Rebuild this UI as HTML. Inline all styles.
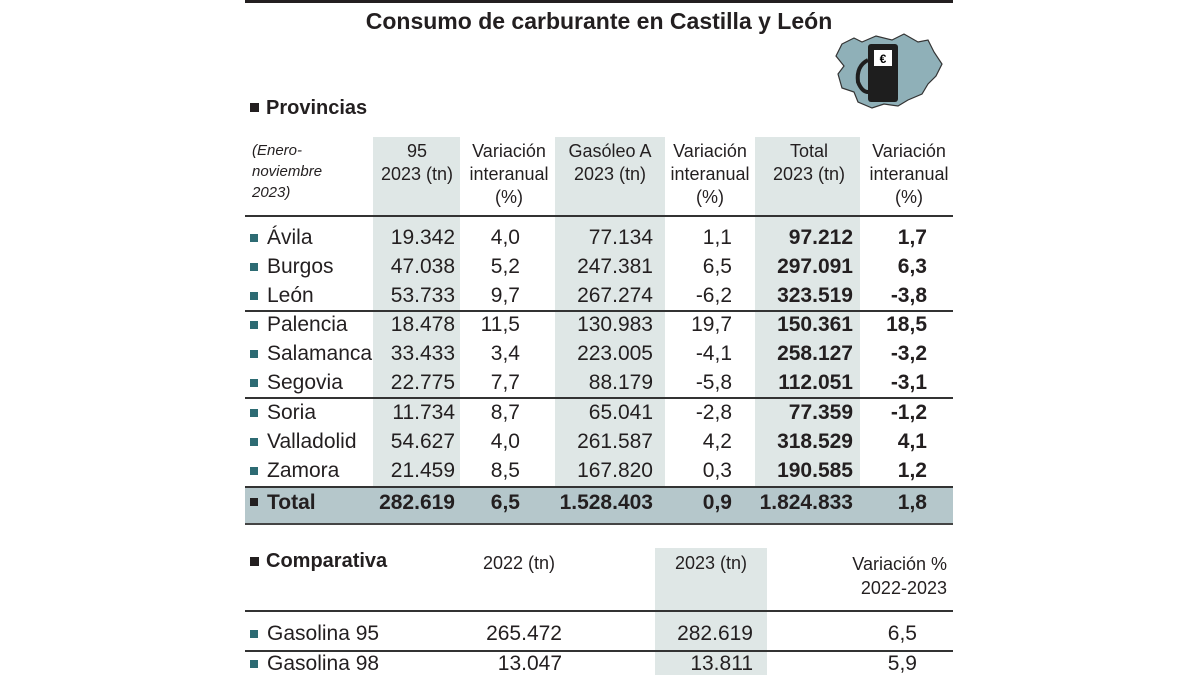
<!DOCTYPE html>
<html><head><meta charset="utf-8">
<style>
body{margin:0;width:1200px;height:675px;background:#fff;position:relative;overflow:hidden;font-family:"Liberation Sans Narrow","Liberation Sans",sans-serif;color:#231f20}
div{position:absolute}
.t{height:26px;line-height:26px;font-size:21px;white-space:nowrap}
.h{font-size:18px;line-height:23px;text-align:center;white-space:nowrap}
.sh{background:#dfe7e6}
.ln{left:245px;width:708px;height:1.5px;background:#333}
.b{font-weight:bold}
.n{left:267px}
.c1{left:360px;width:95px;text-align:right}
.c2{left:460px;width:60px;text-align:right}
.c3{left:555px;width:98px;text-align:right}
.c4{left:665px;width:67px;text-align:right}
.c5{left:755px;width:98px;text-align:right}
.c6{left:860px;width:67px;text-align:right}
.sq{width:8px;height:8px;background:#2d6b73;left:250px}
</style></head><body>
<div style="left:245px;top:0;width:708px;height:3px;background:#231f20"></div>
<div style="left:245px;top:6px;width:708px;text-align:center;font-size:23px;font-weight:bold;line-height:30px">Consumo de carburante en Castilla y León</div>
<svg style="position:absolute;left:832px;top:30px" width="112" height="82" viewBox="0 0 112 82">
<path d="M10 14 L22 8 L30 12 L44 6 L60 10 L72 4 L86 12 L96 10 L102 22 L110 34 L104 46 L96 54 L90 64 L76 70 L66 76 L52 74 L40 78 L26 72 L22 62 L10 58 L6 44 L12 36 L4 26 Z" fill="#8fb0b8" stroke="#333" stroke-width="1.2"/>
<rect x="36" y="14" width="30" height="58" rx="3" fill="#1e1e1e"/>
<rect x="42" y="20" width="18" height="16" fill="#fff"/>
<text x="51" y="33" font-size="12" text-anchor="middle" font-family="Liberation Sans" font-weight="bold">€</text>
<path d="M36 30 Q24 36 26 52 Q30 62 36 62" fill="none" stroke="#1e1e1e" stroke-width="4"/>
</svg>
<div style="left:250px;top:103px;width:9px;height:9px;background:#231f20"></div>
<div style="left:266px;top:95px;font-size:20px;font-weight:bold;line-height:26px">Provincias</div>

<div class="sh" style="left:373px;top:137px;width:87px;height:385px"></div>
<div class="sh" style="left:555px;top:137px;width:110px;height:385px"></div>
<div class="sh" style="left:755px;top:137px;width:105px;height:385px"></div>

<div style="left:252px;top:140px;font-size:15px;font-style:italic;line-height:21px">(Enero-<br>noviembre<br>2023)</div>
<div class="h" style="left:367px;top:140px;width:100px">95<br>2023 (tn)</div>
<div class="h" style="left:464px;top:140px;width:90px">Variación<br>interanual<br>(%)</div>
<div class="h" style="left:555px;top:140px;width:110px">Gasóleo A<br>2023 (tn)</div>
<div class="h" style="left:665px;top:140px;width:90px">Variación<br>interanual<br>(%)</div>
<div class="h" style="left:755px;top:140px;width:108px">Total<br>2023 (tn)</div>
<div class="h" style="left:864px;top:140px;width:90px">Variación<br>interanual<br>(%)</div>

<div class="ln" style="top:215px"></div>
<div class="ln" style="top:310px"></div>
<div class="ln" style="top:397px"></div>

<div class="sq" style="top:234px"></div><div class="t n" style="top:225px">Ávila</div><div class="t c1" style="top:225px">19.342</div><div class="t c2" style="top:225px">4,0</div><div class="t c3" style="top:225px">77.134</div><div class="t c4" style="top:225px">1,1</div><div class="t c5 b" style="top:225px">97.212</div><div class="t c6 b" style="top:225px">1,7</div>
<div class="sq" style="top:263px"></div><div class="t n" style="top:254px">Burgos</div><div class="t c1" style="top:254px">47.038</div><div class="t c2" style="top:254px">5,2</div><div class="t c3" style="top:254px">247.381</div><div class="t c4" style="top:254px">6,5</div><div class="t c5 b" style="top:254px">297.091</div><div class="t c6 b" style="top:254px">6,3</div>
<div class="sq" style="top:292px"></div><div class="t n" style="top:283px">León</div><div class="t c1" style="top:283px">53.733</div><div class="t c2" style="top:283px">9,7</div><div class="t c3" style="top:283px">267.274</div><div class="t c4" style="top:283px">-6,2</div><div class="t c5 b" style="top:283px">323.519</div><div class="t c6 b" style="top:283px">-3,8</div>
<div class="sq" style="top:321px"></div><div class="t n" style="top:312px">Palencia</div><div class="t c1" style="top:312px">18.478</div><div class="t c2" style="top:312px">11,5</div><div class="t c3" style="top:312px">130.983</div><div class="t c4" style="top:312px">19,7</div><div class="t c5 b" style="top:312px">150.361</div><div class="t c6 b" style="top:312px">18,5</div>
<div class="sq" style="top:350px"></div><div class="t n" style="top:341px">Salamanca</div><div class="t c1" style="top:341px">33.433</div><div class="t c2" style="top:341px">3,4</div><div class="t c3" style="top:341px">223.005</div><div class="t c4" style="top:341px">-4,1</div><div class="t c5 b" style="top:341px">258.127</div><div class="t c6 b" style="top:341px">-3,2</div>
<div class="sq" style="top:379px"></div><div class="t n" style="top:370px">Segovia</div><div class="t c1" style="top:370px">22.775</div><div class="t c2" style="top:370px">7,7</div><div class="t c3" style="top:370px">88.179</div><div class="t c4" style="top:370px">-5,8</div><div class="t c5 b" style="top:370px">112.051</div><div class="t c6 b" style="top:370px">-3,1</div>
<div class="sq" style="top:409px"></div><div class="t n" style="top:400px">Soria</div><div class="t c1" style="top:400px">11.734</div><div class="t c2" style="top:400px">8,7</div><div class="t c3" style="top:400px">65.041</div><div class="t c4" style="top:400px">-2,8</div><div class="t c5 b" style="top:400px">77.359</div><div class="t c6 b" style="top:400px">-1,2</div>
<div class="sq" style="top:438px"></div><div class="t n" style="top:429px">Valladolid</div><div class="t c1" style="top:429px">54.627</div><div class="t c2" style="top:429px">4,0</div><div class="t c3" style="top:429px">261.587</div><div class="t c4" style="top:429px">4,2</div><div class="t c5 b" style="top:429px">318.529</div><div class="t c6 b" style="top:429px">4,1</div>
<div class="sq" style="top:467px"></div><div class="t n" style="top:458px">Zamora</div><div class="t c1" style="top:458px">21.459</div><div class="t c2" style="top:458px">8,5</div><div class="t c3" style="top:458px">167.820</div><div class="t c4" style="top:458px">0,3</div><div class="t c5 b" style="top:458px">190.585</div><div class="t c6 b" style="top:458px">1,2</div>

<div style="left:245px;top:486px;width:708px;height:35px;background:#b5c7cb;border-top:2px solid #333;border-bottom:2px solid #444"></div>
<div class="sq" style="top:498px;background:#231f20"></div>
<div class="t n b" style="top:490px">Total</div><div class="t c1 b" style="top:490px">282.619</div><div class="t c2 b" style="top:490px">6,5</div><div class="t c3 b" style="top:490px">1.528.403</div><div class="t c4 b" style="top:490px">0,9</div><div class="t c5 b" style="top:490px">1.824.833</div><div class="t c6 b" style="top:490px">1,8</div>

<div class="sh" style="left:655px;top:548px;width:112px;height:127px"></div>
<div style="left:250px;top:557px;width:9px;height:9px;background:#231f20"></div>
<div style="left:266px;top:548px;font-size:20px;font-weight:bold;line-height:26px">Comparativa</div>
<div class="h" style="left:469px;top:552px;width:100px">2022 (tn)</div>
<div class="h" style="left:655px;top:552px;width:112px">2023 (tn)</div>
<div class="h" style="left:820px;top:552px;width:127px;text-align:right;line-height:24px">Variación %<br>2022-2023</div>
<div class="ln" style="top:610px"></div>
<div class="ln" style="top:650px"></div>
<div class="sq" style="top:630px"></div><div class="t n" style="top:621px">Gasolina 95</div><div class="t" style="top:621px;left:460px;width:102px;text-align:right">265.472</div><div class="t" style="top:621px;left:655px;width:98px;text-align:right">282.619</div><div class="t" style="top:621px;left:850px;width:67px;text-align:right">6,5</div>
<div class="sq" style="top:660px"></div><div class="t n" style="top:651px">Gasolina 98</div><div class="t" style="top:651px;left:460px;width:102px;text-align:right">13.047</div><div class="t" style="top:651px;left:655px;width:98px;text-align:right">13.811</div><div class="t" style="top:651px;left:850px;width:67px;text-align:right">5,9</div>
</body></html>
